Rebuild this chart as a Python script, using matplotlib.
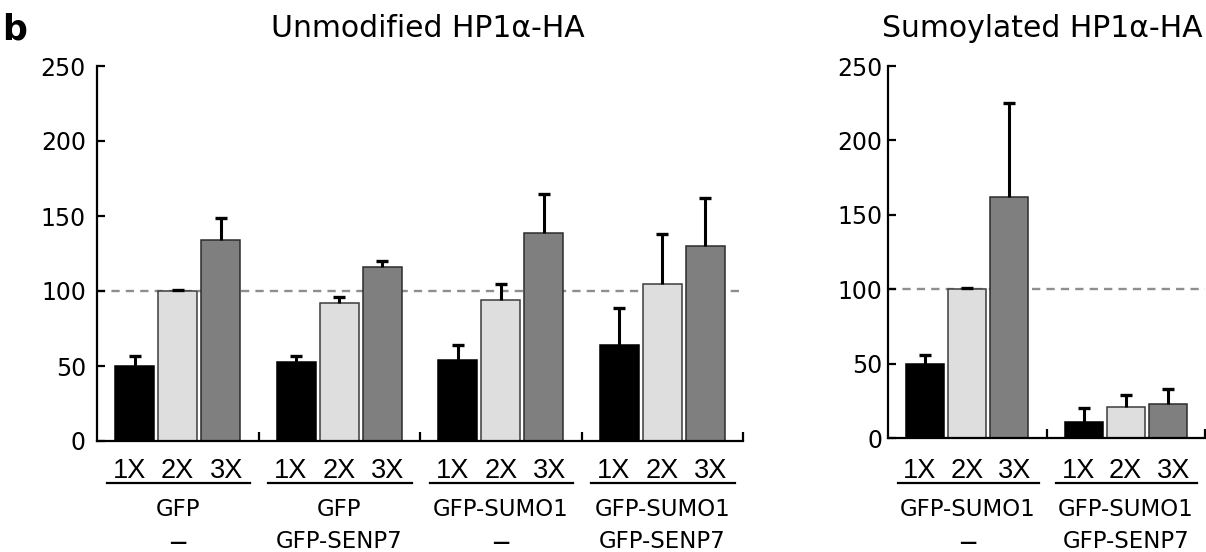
import matplotlib.pyplot as plt
import matplotlib.transforms as mtransforms
import numpy as np

doses = ["1X", "2X", "3X"]

unmod_title = "Unmodified HP1α-HA"
unmod_line1 = ["GFP", "GFP", "GFP-SUMO1", "GFP-SUMO1"]
unmod_line2 = ["—", "GFP-SENP7", "—", "GFP-SENP7"]
unmod_mean = [[50, 100, 134], [53, 92, 116], [54, 94, 139], [64, 105, 130]]
unmod_err = [[7, 0.5, 15], [4, 4, 4], [10, 11, 26], [25, 33, 32]]

sumo_title = "Sumoylated HP1α-HA"
sumo_line1 = ["GFP-SUMO1", "GFP-SUMO1"]
sumo_line2 = ["—", "GFP-SENP7"]
sumo_mean = [[50, 100, 162], [11, 21, 23]]
sumo_err = [[6, 0.5, 63], [9, 8, 10]]

bar_colors = ["black", "#dedede", "#7f7f7f"]
edge_colors = ["black", "#3c3c3c", "#2c2c2c"]

W, H = 1206, 552


def fy(px):
    # figure fraction from pixel row (top = 0)
    return 1 - px / H


def draw_panel(fig, ax, title, title_x, line1, line2, means, errs, ypad):
    means = np.array(means, dtype=float)
    errs = np.array(errs, dtype=float)
    n = len(line1)
    centers = np.arange(n) + 0.5

    ax.axhline(100, color="#8e8e8e", lw=1.7, ls=(0, (3.5, 2.6)), zorder=1)

    for j in range(3):
        x = centers + (j - 1) * 0.266
        ax.bar(x, means[:, j], 0.24, color=bar_colors[j],
               edgecolor=edge_colors[j], linewidth=1.1, zorder=2)
        top = means[:, j] + errs[:, j]
        ax.vlines(x, means[:, j], top, color="black", lw=2.2, zorder=3)
        ax.plot(x, top, ls="none", marker="_", ms=9, mew=2.4,
                color="black", zorder=3)

    # small separator ticks between groups and at the axis end
    ax.vlines(np.arange(1, n + 1), 0, 6, color="black", lw=1.6,
              clip_on=False, zorder=4)

    ax.set_xlim(0, n)
    ax.set_ylim(0, 250)
    ax.set_yticks([0, 50, 100, 150, 200, 250])
    ax.set_xticks([])
    ax.tick_params(axis="y", direction="in", length=6, width=1.6,
                   labelsize=17, pad=ypad)
    for s in ["top", "right"]:
        ax.spines[s].set_visible(False)
    for s in ["left", "bottom"]:
        ax.spines[s].set_linewidth(1.6)

    trans = mtransforms.blended_transform_factory(ax.transData, fig.transFigure)
    label_offsets = [-0.30, 0.0, 0.30]
    for g in range(n):
        for j in range(3):
            ax.text(centers[g] + label_offsets[j], fy(478), doses[j],
                    transform=trans, ha="center", va="baseline",
                    fontsize=19.5, family="Liberation Sans")
        ax.plot([g + 0.06, g + 0.95], [fy(482.5), fy(482.5)], color="black",
                lw=1.6, transform=trans, clip_on=False)
        ax.text(centers[g], fy(516), line1[g], transform=trans,
                ha="center", va="baseline", fontsize=16.5)
        if line2[g] == "—":
            ax.text(centers[g], fy(548), line2[g], transform=trans,
                    ha="center", va="baseline", fontsize=12.5,
                    fontweight="bold")
        else:
            ax.text(centers[g], fy(548), line2[g], transform=trans,
                    ha="center", va="baseline", fontsize=16.5)

    ttrans = mtransforms.blended_transform_factory(ax.transAxes, fig.transFigure)
    ax.text(title_x, fy(37), title, transform=ttrans, ha="center",
            va="baseline", fontsize=21.5)


fig = plt.figure(figsize=(W / 100, H / 100), dpi=100)

ax1 = fig.add_axes([97 / W, (H - 441) / H, 646 / W, 375 / H])
draw_panel(fig, ax1, unmod_title, 0.512, unmod_line1, unmod_line2,
           unmod_mean, unmod_err, ypad=8)

ax2 = fig.add_axes([888 / W, (H - 438) / H, 317 / W, 372 / H])
draw_panel(fig, ax2, sumo_title, 0.488, sumo_line1, sumo_line2,
           sumo_mean, sumo_err, ypad=4)

fig.text(2 / W, fy(40), "b", fontsize=25, fontweight="bold", va="baseline")

fig.savefig("out.png", dpi=100)
